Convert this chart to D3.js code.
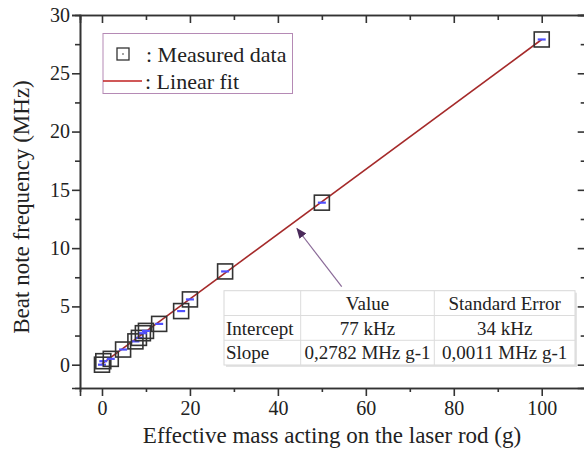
<!DOCTYPE html>
<html>
<head>
<meta charset="utf-8">
<script src="https://cdn.jsdelivr.net/npm/d3@7"></script>
<style>
  body { margin: 0; background: #fff; }
  svg text { font-family: "Liberation Serif", "Times New Roman", serif; fill: #222; }
</style>
</head>
<body>
<svg id="chart" width="584" height="450"></svg>
<script>
// measured points (mass in g, beat note in MHz)
var massG = [0, 0.3, 2, 4.8, 7.6, 8.4, 9.3, 10, 13, 18, 20, 28, 50, 100];
var beatMHz = [0.0, 0.3, 0.5, 1.3, 2.0, 2.3, 2.7, 2.9, 3.5, 4.6, 5.6, 8.0, 13.9, 27.9];

// linear fit result
var fitIntercept = 0.077;
var fitSlope = 0.2782;

var xMajor = [0, 20, 40, 60, 80, 100];
var xMinor = [10, 30, 50, 70, 90];
var yMajor = [0, 5, 10, 15, 20, 25, 30];
var yMinor = [2.5, 7.5, 12.5, 17.5, 22.5, 27.5];

var tableHead = ["", "Value", "Standard Error"];
var tableRows = [
  ["Intercept", "77 kHz", "34 kHz"],
  ["Slope", "0,2782 MHz g-1", "0,0011 MHz g-1"]
];

var svg = d3.select("#chart");

var x = d3.scaleLinear().domain([-5, 110]).range([80, 585.7]);
var y = d3.scaleLinear().domain([-2, 30]).range([388, 15]);

function styleAxis(g) {
  g.selectAll("path").attr("stroke", "#333").attr("stroke-width", 1.6);
  g.selectAll("line").attr("stroke", "#333").attr("stroke-width", 1.6);
  g.selectAll("text").attr("font-size", 20).attr("fill", "#222")
    .style("font-family", "'Liberation Serif', serif");
}

// left axis
svg.append("g").attr("transform", "translate(80,0)")
  .call(d3.axisLeft(y).tickValues(yMajor).tickSize(8).tickPadding(2).tickFormat(d3.format("d")))
  .call(styleAxis);
svg.append("g").attr("transform", "translate(80,0)")
  .call(d3.axisLeft(y).tickValues(yMinor).tickSize(5).tickFormat(""))
  .call(styleAxis);

// bottom axis
svg.append("g").attr("transform", "translate(0,388)")
  .call(d3.axisBottom(x).tickValues(xMajor).tickSize(8).tickPadding(5))
  .call(styleAxis);
svg.append("g").attr("transform", "translate(0,388)")
  .call(d3.axisBottom(x).tickValues(xMinor).tickSize(4).tickFormat(""))
  .call(styleAxis);

// top axis, ticks inward
svg.append("g").attr("transform", "translate(0,15)")
  .call(d3.axisTop(x).tickValues(xMajor).tickSize(-8).tickFormat(""))
  .call(styleAxis);
svg.append("g").attr("transform", "translate(0,15)")
  .call(d3.axisTop(x).tickValues(xMinor).tickSize(-5).tickFormat(""))
  .call(styleAxis);

// right axis, ticks inward (mostly off the picture)
svg.append("g").attr("transform", "translate(585.7,0)")
  .call(d3.axisRight(y).tickValues(yMajor).tickSize(-8).tickFormat(""))
  .call(styleAxis);
svg.append("g").attr("transform", "translate(585.7,0)")
  .call(d3.axisRight(y).tickValues(yMinor).tickSize(-5).tickFormat(""))
  .call(styleAxis);

// axis titles
svg.append("text")
  .attr("x", 332).attr("y", 443)
  .attr("text-anchor", "middle").attr("font-size", 23)
  .text("Effective mass acting on the laser rod (g)");
svg.append("text")
  .attr("transform", "translate(29,207) rotate(-90)")
  .attr("text-anchor", "middle").attr("font-size", 23)
  .text("Beat note frequency (MHz)");

// fit line
var fitLine = d3.line()
  .x(function (d) { return x(d); })
  .y(function (d) { return y(fitIntercept + fitSlope * d); });
svg.append("path")
  .datum([0, 100])
  .attr("d", fitLine)
  .attr("fill", "none")
  .attr("stroke", "#a52a2a")
  .attr("stroke-width", 1.6);

// markers with small blue error bars
var pts = svg.append("g");
massG.forEach(function (m, i) {
  var cx = x(m), cy = y(beatMHz[i]);
  pts.append("line")
    .attr("x1", cx - 4).attr("x2", cx + 4)
    .attr("y1", cy).attr("y2", cy)
    .attr("stroke", "#5050ff").attr("stroke-width", 2.2);
  pts.append("rect")
    .attr("x", cx - 7.5).attr("y", cy - 7.5)
    .attr("width", 15).attr("height", 15)
    .attr("fill", "none")
    .attr("stroke", "#333").attr("stroke-width", 1.6);
});

// legend
var leg = svg.append("g");
leg.append("rect")
  .attr("x", 103).attr("y", 33.5).attr("width", 189.5).attr("height", 60)
  .attr("fill", "#fff").attr("stroke", "#b58ab5").attr("stroke-width", 1);
leg.append("rect")
  .attr("x", 117).attr("y", 48).attr("width", 12).attr("height", 12)
  .attr("fill", "none").attr("stroke", "#333").attr("stroke-width", 1.3);
leg.append("circle").attr("cx", 123).attr("cy", 54).attr("r", 0.8).attr("fill", "#333");
leg.append("text").attr("x", 146).attr("y", 62).attr("font-size", 22).text(": Measured data");
leg.append("line")
  .attr("x1", 103).attr("x2", 142).attr("y1", 81).attr("y2", 81)
  .attr("stroke", "#c02020").attr("stroke-width", 1.4);
leg.append("text").attr("x", 145).attr("y", 89).attr("font-size", 22).text(": Linear fit");

// arrow pointing at the fit line
svg.append("defs").append("marker")
  .attr("id", "ah").attr("viewBox", "0 0 10 10")
  .attr("refX", 9).attr("refY", 5)
  .attr("markerWidth", 9).attr("markerHeight", 9)
  .attr("orient", "auto")
  .append("path").attr("d", "M0,1 L10,5 L0,9 Z").attr("fill", "#4a2a5a");
svg.append("line")
  .attr("x1", 341.7).attr("y1", 286.7).attr("x2", 297).attr("y2", 228.5)
  .attr("stroke", "#8a6a98").attr("stroke-width", 1.2)
  .attr("marker-end", "url(#ah)");

// results table
var colX = [224, 300.7, 434.3, 575];
var rowY = [290.7, 315.5, 340.3, 365];
var tbl = svg.append("g");
tbl.append("rect")
  .attr("x", colX[0] + 2).attr("y", rowY[0] + 2)
  .attr("width", colX[3] - colX[0]).attr("height", rowY[3] - rowY[0])
  .attr("fill", "#e4e4e4");
tbl.append("rect")
  .attr("x", colX[0]).attr("y", rowY[0])
  .attr("width", colX[3] - colX[0]).attr("height", rowY[3] - rowY[0])
  .attr("fill", "#fff").attr("stroke", "#d8d8d8").attr("stroke-width", 1);
[1, 2].forEach(function (c) {
  tbl.append("line").attr("x1", colX[c]).attr("x2", colX[c])
    .attr("y1", rowY[0]).attr("y2", rowY[3])
    .attr("stroke", "#dcdcdc").attr("stroke-width", 1);
});
[1, 2].forEach(function (r) {
  tbl.append("line").attr("x1", colX[0]).attr("x2", colX[3])
    .attr("y1", rowY[r]).attr("y2", rowY[r])
    .attr("stroke", "#dcdcdc").attr("stroke-width", 1);
});
var allRows = [tableHead].concat(tableRows);
allRows.forEach(function (row, r) {
  row.forEach(function (cell, c) {
    if (!cell) return;
    var t = tbl.append("text")
      .attr("y", rowY[r] + 19)
      .attr("font-size", 19)
      .text(cell);
    if (c === 0) {
      t.attr("x", colX[0] + 2);
    } else {
      t.attr("x", (colX[c] + colX[c + 1]) / 2).attr("text-anchor", "middle");
    }
  });
});
</script>
</body>
</html>
